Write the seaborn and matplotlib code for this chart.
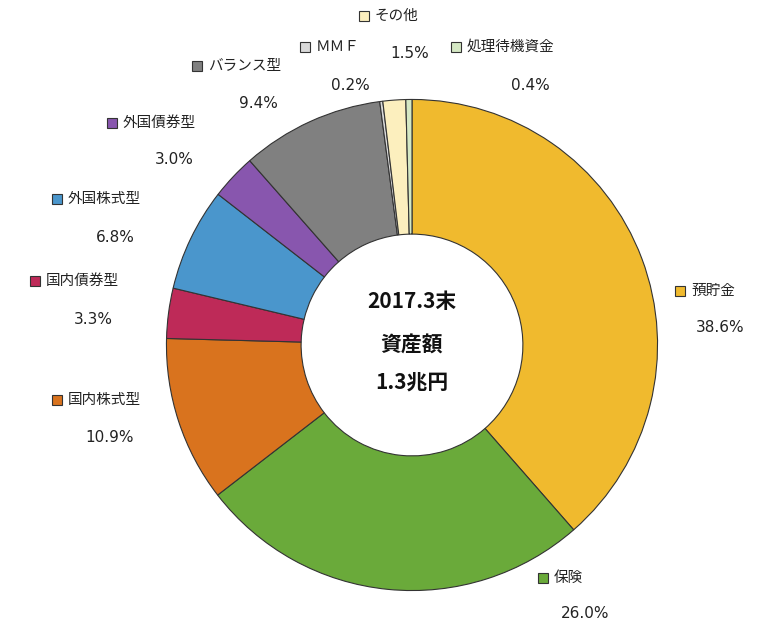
import matplotlib
matplotlib.use("Agg")
import matplotlib.pyplot as plt
import seaborn as sns

sns.set_theme(style="white")
plt.rcParams["font.family"] = "Noto Sans CJK JP"

categories = ["預貯金", "保険", "国内株式型", "国内債券型", "外国株式型", "外国債券型",
              "バランス型", "ＭＭＦ", "その他", "処理待機資金"]
values = [38.6, 26.0, 10.9, 3.3, 6.8, 3.0, 9.4, 0.2, 1.5, 0.4]
pct_labels = ["38.6%", "26.0%", "10.9%", "3.3%", "6.8%", "3.0%", "9.4%", "0.2%", "1.5%", "0.4%"]
colors = ["#F0BA2E", "#6AAA3A", "#D9731E", "#BE2A58", "#4A96CC", "#8856AE",
          "#808080", "#D9D9D9", "#FCEFBE", "#D5E8C4"]
# label anchor positions (pixels): marker x, marker y, percent center x, percent y
label_pos = [(680, 291, 720, 327), (543, 578, 585, 614), (57, 400, 110, 437),
             (35, 281, 93, 320), (57, 199, 115, 238), (112, 123, 174, 160),
             (197, 66, 258, 103), (305, 47, 350, 85), (364, 16, 410, 54),
             (456, 47, 530, 85)]

W, H = 772, 641
fig = plt.figure(figsize=(W / 100, H / 100), dpi=100)
ax = fig.add_axes([164 / W, (H - 593) / H, 496 / W, 496 / H])
ax.pie(values, colors=colors, startangle=90, counterclock=False, radius=1,
       wedgeprops=dict(width=1 - 112 / 248, edgecolor="#333333", linewidth=0.8))
ax.set_xlim(-1.01, 1.01)
ax.set_ylim(-1.01, 1.01)
ax.set_aspect("equal")
ax.axis("off")

for t, y in zip(["2017.3末", "資産額", "1.3兆円"], [301, 345, 383]):
    ax.text(0, 0, "", fontsize=1)
    fig.text(412 / W, 1 - y / H, t, ha="center", va="center", fontsize=15,
             fontweight="bold", color="#111111")

for cat, pct, col, (mx, my, px, py) in zip(categories, pct_labels, colors, label_pos):
    fig.patches.append(plt.Rectangle(((mx - 5) / W, 1 - (my + 5) / H), 10 / W, 10 / H,
                                     transform=fig.transFigure, facecolor=col,
                                     edgecolor="#333333", linewidth=0.8, figure=fig))
    fig.text((mx + 11) / W, 1 - my / H, cat, ha="left", va="center", fontsize=10.5, color="#222222")
    fig.text(px / W, 1 - py / H, pct, ha="center", va="center", fontsize=11, color="#222222",
             family="DejaVu Sans")

fig.savefig("out.png", dpi=100)
